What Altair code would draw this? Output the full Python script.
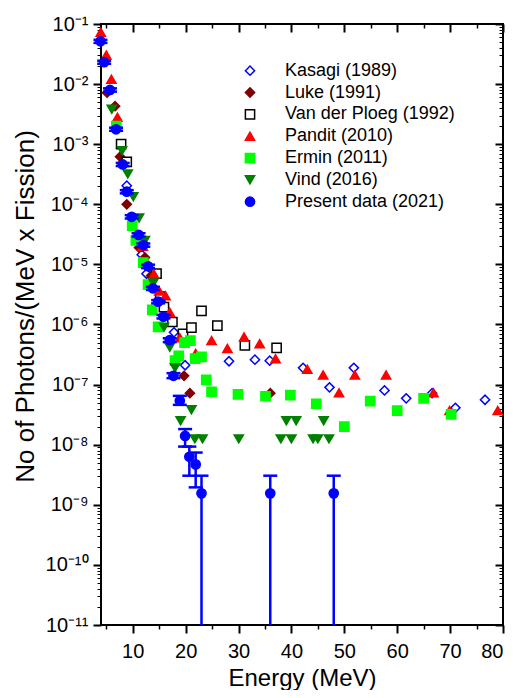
import altair as alt
import pandas as pd

FONT = "Liberation Sans"

series_names = ["Kasagi (1989)", "Luke (1991)", "Van der Ploeg (1992)", "Pandit (2010)",
                "Ermin (2011)", "Vind (2016)", "Present data (2021)"]

kasagi_x = [8.87, 11.7, 12.6, 17.8, 19.9, 28.2, 33.1, 35.9, 42.2, 47.2, 51.8, 57.6, 61.7, 66.6, 71.0, 76.6]
kasagi_y = [2.04e-4, 1.45e-5, 7.0e-6, 7.4e-7, 2.1e-7, 2.45e-7, 2.6e-7, 2.5e-7, 1.9e-7, 9.0e-8, 1.9e-7,
            8.0e-8, 5.9e-8, 7.2e-8, 4.1e-8, 5.6e-8]

luke_x = [5.15, 6.66, 7.6, 8.87, 11.2, 12.3, 13.5, 19.7, 20.8, 36.0]
luke_y = [7.2e-3, 4.3e-3, 6.2e-4, 1.0e-4, 1.9e-5, 1.3e-5, 6.5e-6, 1.4e-7, 7.2e-8, 7.2e-8]

vdp_x = [7.8, 8.87, 14.5, 15.2, 15.9, 17.5, 19.5, 21.1, 23.0, 26.0, 31.2, 37.2]
vdp_y = [1.0e-3, 5.1e-4, 7.0e-6, 2.9e-6, 1.95e-6, 1.1e-6, 7.0e-7, 8.9e-7, 1.68e-6, 9.6e-7, 4.5e-7, 4.1e-7]

pandit_x = [3.96, 5.0, 5.96, 7.1, 11.9, 12.9, 14.0, 15.0, 16.2, 17.0, 18.9, 21.9, 24.9, 27.9, 31.05,
            34.0, 37.0, 43.0, 46.0, 49.0, 52.0, 57.9, 66.85, 69.9, 79.0]
pandit_y = [0.073, 0.0305, 0.012, 0.0028, 2.0e-5, 1.0e-5, 6.9e-6, 3.6e-6, 3.0e-6, 1.6e-6, 6.0e-7,
            3.3e-7, 5.4e-7, 4.0e-7, 6.2e-7, 4.8e-7, 2.7e-7, 1.8e-7, 1.45e-7, 7.3e-8, 1.45e-7,
            1.45e-7, 7.3e-8, 3.7e-8, 3.7e-8]

ermin_x = [6.9, 9.9, 10.6, 12.0, 12.9, 13.7, 14.8, 18.0, 18.7, 19.8, 20.9, 21.8, 23.0, 23.9, 24.9,
           29.9, 35.1, 39.8, 44.7, 50.0, 54.9, 60.0, 65.0, 70.2]
ermin_y = [2.0e-3, 4.4e-5, 2.5e-5, 1.07e-5, 4.6e-6, 1.75e-6, 9.1e-7, 2.5e-7, 3.0e-7, 5.0e-7, 5.4e-7,
           2.7e-7, 2.9e-7, 1.2e-7, 7.6e-8, 6.9e-8, 6.4e-8, 6.7e-8, 4.8e-8, 2.0e-8, 5.3e-8, 3.7e-8,
           5.9e-8, 3.2e-8]

vind_x = [6.04, 7.98, 9.06, 10.1, 11.2, 12.3, 13.9, 15.9, 17.0, 18.0, 19.05, 21.1, 21.75, 23.2,
          30.05, 38.0, 39.05, 40.0, 40.9, 44.1, 45.0, 46.1, 47.1]
vind_y = [3.8e-3, 7.8e-4, 3.2e-4, 1.34e-4, 5.9e-5, 2.5e-5, 4.9e-6, 9.0e-7, 4.2e-7, 1.9e-7, 2.5e-8,
          3.8e-8, 1.25e-8, 1.25e-8, 1.25e-8, 1.25e-8, 2.5e-8, 1.25e-8, 2.5e-8, 1.25e-8, 1.25e-8,
          2.5e-8, 1.25e-8]

present_x = [3.9, 4.6, 5.7, 6.85, 8.1, 8.87, 9.8, 11.1, 12.0, 12.9, 13.8, 14.8, 15.8, 17.0, 17.7,
             18.9, 19.9, 20.7, 21.9, 23.0, 36.0, 48.0]
present_y = [0.0515, 0.0231, 0.0080, 1.77e-3, 4.6e-4, 1.62e-4, 6.2e-5, 3.1e-5, 2.1e-5, 9.3e-6, 4.0e-6,
             2.4e-6, 1.35e-6, 5.5e-7, 1.4e-7, 5.4e-8, 1.4e-8, 6.3e-9, 4.7e-9, 1.55e-9, 1.55e-9, 1.55e-9]
present_lo = [0.0485, 0.0218, 0.0075, 1.67e-3, 4.33e-4, 1.52e-4, 5.8e-5, 2.9e-5, 1.97e-5, 8.7e-6,
              3.75e-6, 2.25e-6, 1.26e-6, 5.1e-7, 1.28e-7, 4.6e-8, 9.3e-9, 3.05e-9, 1.95e-9,
              1e-13, 1e-13, 1e-13]
present_hi = [0.0545, 0.0245, 0.0085, 1.88e-3, 4.88e-4, 1.72e-4, 6.6e-5, 3.3e-5, 2.23e-5, 9.9e-6,
              4.25e-6, 2.55e-6, 1.44e-6, 5.9e-7, 1.55e-7, 6.5e-8, 1.82e-8, 9.3e-9, 7.4e-9,
              3.05e-9, 3.05e-9, 3.05e-9]

shapes = ["diamond", "diamond", "square", "triangle-up", "square", "triangle-down", "circle"]
strokes = ["#0000FF", "#800000", "#000000", "#FF0000", "#00FF00", "#008000", "#0000FF"]
fills = ["#FFFFFF", "#800000", "#FFFFFF", "#FF0000", "#00FF00", "#008000", "#0000FF"]
sizes = [85, 85, 55, 105, 75, 100, 90]

x_major = [10, 20, 30, 40, 50, 60, 70, 80]
x_minor = [5, 15, 25, 35, 45, 55, 65, 75]
y_major = [10.0 ** e for e in range(-11, 0)]
y_minor = [m * 10.0 ** e for e in range(-11, -1) for m in range(2, 10)]

sup = {"-": "\u207b", "0": "\u2070", "1": "\u00b9", "2": "\u00b2", "3": "\u00b3", "4": "\u2074",
       "5": "\u2075", "6": "\u2076", "7": "\u2077", "8": "\u2078", "9": "\u2079"}
expr = "''"
for e in range(-1, -12, -1):
    s = "10" + "".join(sup[c] for c in str(e))
    expr = f"round(log(datum.value)/LN10) == {e} ? '{s}' : ({expr})"

rows = []
for name, xs, ys in zip(series_names,
                        [kasagi_x, luke_x, vdp_x, pandit_x, ermin_x, vind_x, present_x],
                        [kasagi_y, luke_y, vdp_y, pandit_y, ermin_y, vind_y, present_y]):
    for xv, yv in zip(xs, ys):
        rows.append({"series": name, "energy": xv, "value": yv})
df = pd.DataFrame(rows)
leg_df = pd.DataFrame({"series": series_names})

err_df = pd.DataFrame({"energy": present_x, "lo": present_lo, "hi": present_hi})
cap_rows = [{"energy": xv, "cap": h} for xv, h in zip(present_x, present_hi)]
cap_rows += [{"energy": xv, "cap": l} for xv, l in zip(present_x, present_lo) if l >= 1e-11]
cap_df = pd.DataFrame(cap_rows)

xscale = alt.Scale(domain=[4, 80], nice=False, zero=False)
yscale = alt.Scale(type="log", domain=[1e-11, 1e-1], nice=False)
shape_scale = alt.Scale(domain=series_names, range=shapes)
fill_scale = alt.Scale(domain=series_names, range=fills)
stroke_scale = alt.Scale(domain=series_names, range=strokes)
size_scale = alt.Scale(domain=series_names, range=sizes)
leg_y_scale = alt.Scale(type="point", domain=series_names, range=[46.7, 177.7], padding=0)

common = dict(grid=False, domain=False, tickColor="black", labelFont=FONT, titleFont=FONT,
              labelColor="black", titleColor="black", titleFontWeight="normal")

ax_x_main = alt.Axis(values=x_major, orient="bottom", title="Energy (MeV)", format="d",
                     labelFontSize=20, titleFontSize=24, tickSize=8, tickWidth=2,
                     labelPadding=8, titleY=60, titleBaseline="alphabetic", **common)
ax_x_minor = alt.Axis(values=x_minor, orient="bottom", labels=False, title=None,
                      tickSize=4, tickWidth=1.5, **common)
ax_x_top = alt.Axis(values=x_major, orient="top", labels=False, title=None,
                    tickSize=8, tickWidth=2, offset=-8, **common)
ax_x_top_minor = alt.Axis(values=x_minor, orient="top", labels=False, title=None,
                          tickSize=4, tickWidth=1.5, offset=-4, **common)

ax_y_main = alt.Axis(values=y_major, orient="left", title="No of Photons/(MeV x Fission)",
                     labelExpr=expr, labelFontSize=20, titleFontSize=26, tickSize=8, tickWidth=2,
                     labelPadding=5, titleX=-68, titleY=282, titleAngle=270, titleAlign="center",
                     titleBaseline="alphabetic", **common)
ax_y_minor = alt.Axis(values=y_minor, orient="left", labels=False, title=None,
                      tickSize=4, tickWidth=1, **common)
ax_y_right = alt.Axis(values=y_major, orient="right", labels=False, title=None,
                      tickSize=8, tickWidth=2, offset=-8, **common)
ax_y_right_minor = alt.Axis(values=y_minor, orient="right", labels=False, title=None,
                            tickSize=4, tickWidth=1, offset=-4, **common)

invisible = alt.Chart(df).mark_point(opacity=0).encode(
    x=alt.X("energy:Q", scale=xscale, axis=ax_x_top_minor),
    y=alt.Y("value:Q", scale=yscale, axis=ax_y_right_minor),
)

points = alt.Chart(df).mark_point(filled=True, opacity=1, strokeWidth=1.5).encode(
    x=alt.X("energy:Q", scale=xscale, axis=ax_x_main),
    y=alt.Y("value:Q", scale=yscale, axis=ax_y_main),
    shape=alt.Shape("series:N", scale=shape_scale, legend=None),
    fill=alt.Fill("series:N", scale=fill_scale, legend=None),
    stroke=alt.Stroke("series:N", scale=stroke_scale, legend=None),
    size=alt.Size("series:N", scale=size_scale, legend=None),
)

rules = alt.Chart(err_df).mark_rule(color="#0000FF", strokeWidth=2.5, clip=True).encode(
    x=alt.X("energy:Q", scale=xscale, axis=ax_x_minor),
    y=alt.Y("lo:Q", scale=yscale, axis=ax_y_minor),
    y2="hi:Q",
)

caps = alt.Chart(cap_df).mark_tick(color="#0000FF", thickness=2.5, size=14, opacity=1,
                                   orient="horizontal").encode(
    x=alt.X("energy:Q", scale=xscale, axis=ax_x_top),
    y=alt.Y("cap:Q", scale=yscale, axis=ax_y_right),
)

leg_symbols = alt.Chart(leg_df).mark_point(filled=True, opacity=1, strokeWidth=1.5).encode(
    x=alt.value(149),
    y=alt.Y("series:N", scale=leg_y_scale, axis=None),
    shape=alt.Shape("series:N", scale=shape_scale, legend=None),
    fill=alt.Fill("series:N", scale=fill_scale, legend=None),
    stroke=alt.Stroke("series:N", scale=stroke_scale, legend=None),
    size=alt.Size("series:N", scale=size_scale, legend=None),
)

leg_text = alt.Chart(leg_df).mark_text(align="left", baseline="middle", font=FONT,
                                       fontSize=18, color="black").encode(
    x=alt.value(184),
    y=alt.Y("series:N", scale=leg_y_scale, axis=None),
    text="series:N",
)

chart = alt.layer(invisible, points, rules, caps, leg_symbols, leg_text).resolve_axis(
    x="independent", y="independent"
).resolve_scale(y="independent").properties(
    width=402, height=601, autosize="none",
    padding={"left": 93, "top": 16, "right": 7, "bottom": 65},
).configure_view(stroke="black", strokeWidth=2)

chart.save("out.html", embed_options={"renderer": "svg", "actions": False})
